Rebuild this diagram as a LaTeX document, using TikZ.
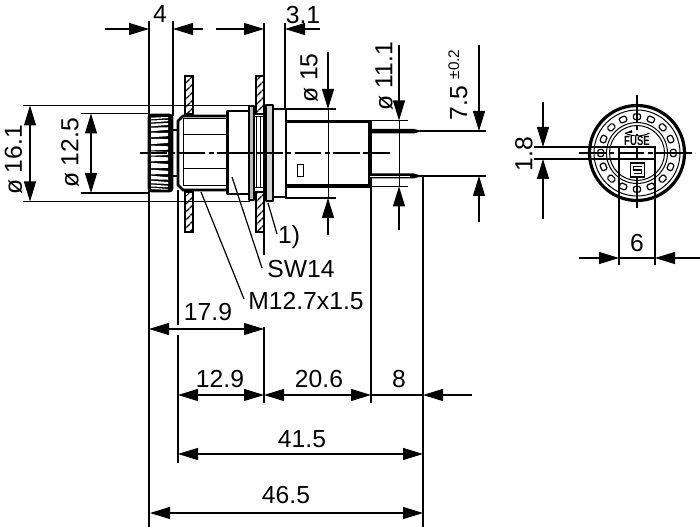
\documentclass[tikz,border=0pt]{standalone}
\usepackage{fontspec}
\setmainfont{Liberation Sans}
\usetikzlibrary{arrows.meta,patterns.meta}
\tikzset{
  dimline/.style={line width=.9pt},
  dimarrow/.style={line width=.9pt,{Triangle[length=15pt,width=9pt]}-{Triangle[length=15pt,width=9pt]}},
  tipend/.style={line width=.9pt,-{Triangle[length=15pt,width=9pt]}},
  partline/.style={line width=2.1pt,line join=round},
  midline/.style={line width=.75pt},
  axisline/.style={line width=.8pt,dash pattern=on 20pt off 2.5pt on 4pt off 2.5pt},
  panel/.style={line width=.8pt,pattern={Lines[angle=45,distance=4pt,line width=1.1pt]}},
  dimtext/.style={font=\fontsize{18.5}{21}\selectfont,inner sep=0pt},
  sidetext/.style={dimtext,rotate=90}
}
\begin{document}
\begin{tikzpicture}[x=.75pt,y=-.75pt]
  \useasboundingbox (0,0) rectangle (700,527);
  % extension lines
  \draw[dimline] (149,21) -- (149,527);
  \draw[dimline] (173,21) -- (173,116);
  \draw[dimline] (178,190) -- (178,325) (178,335) -- (178,463);
  \draw[dimline] (264,23) -- (264,255) (264,327) -- (264,403);
  \draw[dimline] (285,23) -- (285,108);
  \draw[dimline] (371,186) -- (371,403);
  \draw[dimline] (423,176) -- (423,527);
  \draw[dimline] (23,105.5) -- (250,105.5);
  \draw[dimline] (23,201.5) -- (250,201.5);
  \draw[dimline] (81,113.5) -- (150,113.5);
  \draw[dimline] (81,193) -- (150,193);
  \draw[dimline] (285,109) -- (336,109);
  \draw[dimline] (285,198) -- (336,198);
  \draw[dimline] (370,120.5) -- (408,120.5);
  \draw[dimline] (370,186.5) -- (408,186.5);
  \draw[dimline] (420,131) -- (486,131);
  \draw[dimline] (420,176) -- (486,176);
  % panel
  \foreach \px in {185,256} {
    \draw[panel] (\px,76) rectangle (\px+8,114);
    \draw[panel] (\px,192) rectangle (\px+8,232);
  }
  % knob
  \fill[rounded corners=2pt] (149,115) rectangle (172,191);
  \foreach \yl/\yr/\h in {118.5/117.5/.8,121.5/120.5/1,125/124/1.3,129.5/128.5/1.8,135/134.5/2.3,141.5/141/2.7,148/148/2.4,153.5/153.5/2.2,159/159/2.4,165.5/166/2.7,172/172.5/2.3,177.5/178.5/1.8,182/183/1.3,185.5/186.5/1,188.5/189.5/.8}
    \fill[white] (151,\yl-\h) -- (168,\yr-\h*.7) -- (168,\yr+\h*.7) -- (151,\yl+\h) -- cycle;
  \draw[partline,rounded corners=2pt] (149,115) rectangle (172,191);
  \draw[partline] (172,130) -- (177,130) (172,176) -- (177,176);
  % threaded part
  \draw[partline] (228,116) -- (183,116) -- (178,121) -- (178,185) -- (183,190) -- (228,190);
  \draw[midline] (183,119) -- (228,119) (183,186) -- (228,186);
  \draw[midline] (183,119) -- (183,186);
  \draw[midline] (183,135) -- (228,135) (183,169) -- (228,169);
  % hex nut
  \draw[partline] (227.5,111) rectangle (249,194);
  \draw[partline] (228,153) -- (249,153);
  \draw[midline] (254,117) -- (265,117) (254,188) -- (265,188);
  \draw[midline] (256,117) -- (256,188) (260,117) -- (260,188);
  \draw[partline,fill=gray!55] (249,106) rectangle (254,200);
  \draw[partline,fill=gray!35] (266,105) rectangle (273,201);
  \draw[partline] (273,109) -- (287,109) (273,197) -- (287,197);
  % housing and pins
  \draw[partline] (286,109) -- (286,198);
  \draw[line width=2.4pt] (286,121.5) -- (370,121.5) -- (370,186) -- (286,186);
  \draw[midline] (297,165) rectangle (303,177);
  \fill (370,129) -- (414,129) -- (422,131) -- (414,133.5) -- (370,133.5) -- cycle;
  \fill (370,173.5) -- (414,173.5) -- (422,176) -- (414,178.5) -- (370,178.5) -- cycle;
  \draw[white,line width=.5pt] (370,176) -- (410,176);
  % centre line
  \draw[axisline] (140,153) -- (390,153);
  % leaders
  \draw[dimline] (201,192) -- (244,299);
  \draw[dimline] (232,177) -- (262,268);
  \draw[dimline] (268,203) -- (277,234);
  \node[dimtext] (refone) at (289,237) {1)};
  \node[dimtext] (refsw) at (301,269) {SW14};
  \node[dimtext] (refthread) at (306,301) {M12.7x1.5};
  % upper dimensions
  \draw[tipend] (105,29) -- (149,29);
  \draw[tipend] (203,29) -- (173,29);
  \draw[tipend] (216,29) -- (264,29);
  \draw[tipend] (320,29) -- (285,29);
  \node[dimtext] (dimfour) at (160,14) {4};
  \node[dimtext] (dimthree) at (303,15) {3.1};
  % diameters
  \draw[dimarrow] (30,105.5) -- (30,201.5);
  \draw[dimarrow] (91,113.5) -- (91,193);
  \node[sidetext] (dimknob) at (13.5,160) {ø 16.1};
  \node[sidetext] (dimcap) at (70,153) {ø 12.5};
  \draw[tipend] (328,52) -- (328,109);
  \draw[tipend] (328,235) -- (328,198);
  \draw[midline] (328,109) -- (328,198);
  \node[sidetext] (dimflange) at (309,78) {ø 15};
  \draw[tipend] (399,45) -- (399,120.5);
  \draw[tipend] (399,230) -- (399,186.5);
  \draw[midline] (399,120.5) -- (399,186.5);
  \node[sidetext] (dimbody) at (384,76) {ø 11.1};
  \draw[tipend] (479,45) -- (479,131);
  \draw[tipend] (479,222) -- (479,176);
  \node[sidetext] (dimpins) at (458,85) {7.5 \raisebox{6pt}{\fontsize{11.5}{12}\selectfont ±0.2}};
  % lower dimensions
  \draw[dimarrow] (149,329) -- (264,329);
  \node[dimtext] (dimpanel) at (208,312) {17.9};
  \draw[dimarrow] (178,395) -- (264,395);
  \node[dimtext] (dimfront) at (220,379) {12.9};
  \draw[dimarrow] (264,395) -- (371,395);
  \node[dimtext] (dimrear) at (319,379) {20.6};
  \draw[dimline] (371,395) -- (423,395);
  \draw[tipend] (472,395) -- (423,395);
  \node[dimtext] (dimpin) at (399,379) {8};
  \draw[dimarrow] (178,454) -- (423,454);
  \node[dimtext] (dimlong) at (302,439) {41.5};
  \draw[dimarrow] (150,513) -- (423,513);
  \node[dimtext] (dimall) at (286,495) {46.5};
  % front view
  \draw[line width=2.4pt] (637,153) circle (47.5);
  \draw[midline] (637,153) circle (43);
  \draw[midline] (637,153) circle (30.5);
  \draw[midline] (637,153) circle (27.5);
  \foreach \a in {0,22.5,...,337.5}
    \draw[line width=.9pt,rounded corners=1pt,rotate around={\a:(637,153)}] (633.5,114) rectangle (640.5,119.5);
  \draw[dimline] (534,147) -- (655,147);
  \draw[dimline] (534,159) -- (655,159);
  \draw[dimline] (619,147) -- (619,265);
  \draw[dimline] (655,147) -- (655,265);
  \draw[line width=1.6pt] (619,147) rectangle (655,159);
  \draw[axisline] (579,153) -- (695,153);
  \draw[axisline] (637,95) -- (637,210);
  \draw[midline] (625,133) arc (117:63:27);
  \fill (625,133) -- (632,130) -- (632,133) -- cycle;
  \node[inner sep=.5pt,font=\bfseries\fontsize{10}{11}\selectfont,xscale=.72,fill=white] (fuselabel) at (637,141) {FUSE};
  \draw[line width=1pt,fill=white] (630.5,163) rectangle (644.5,177);
  \draw[line width=1.1pt] (641.5,166.5) -- (633.5,166.5) -- (633.5,170) -- (641.5,170) -- (641.5,173.5) -- (633.5,173.5);
  \draw[tipend] (543,102) -- (543,147);
  \draw[tipend] (543,219) -- (543,159);
  \node[sidetext] (dimslot) at (524,154) {1.8};
  \draw[tipend] (579,258) -- (619,258);
  \draw[tipend] (700,258) -- (655,258);
  \draw[dimline] (619,258) -- (655,258);
  \node[dimtext] (dimwidth) at (637,243) {6};
\end{tikzpicture}
\end{document}
